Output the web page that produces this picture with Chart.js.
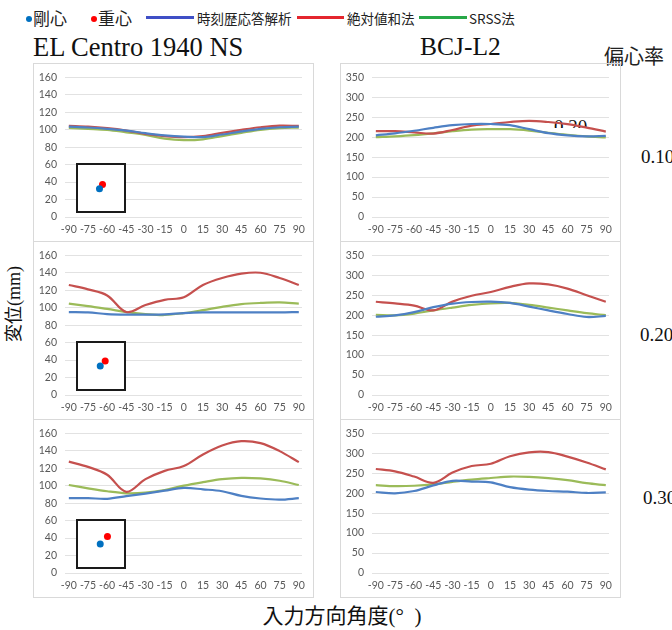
<!DOCTYPE html>
<html>
<head>
<meta charset="utf-8">
<script src="https://cdn.jsdelivr.net/npm/chart.js@4/dist/chart.umd.min.js"></script>
<style>
  html, body { margin: 0; padding: 0; background: #fff; }
  #wrap { position: relative; width: 672px; height: 630px; overflow: hidden; background: #fff; }
  .abs { position: absolute; white-space: nowrap; }
  .panel { position: absolute; box-sizing: border-box; border: 1px solid #D9D9D9; }
  .cjk { font-family: "Noto Sans CJK JP", sans-serif; color: #222; }
  .serif { font-family: "Liberation Serif", "Noto Sans CJK JP", serif; color: #111; }
  .dot { position: absolute; width: 6px; height: 6px; border-radius: 50%; }
  .lg-line { position: absolute; height: 3px; }
  .inset { position: absolute; box-sizing: border-box; width: 50px; height: 50px; border: 2px solid #1a1a1a; background: #fff; }
</style>
</head>
<body>
<div id="wrap">
  <!-- legend -->
  <div class="dot" style="left:26px;top:16px;background:#0070C0"></div>
  <div class="abs cjk" style="left:33px;top:7px;font-size:17px;line-height:22px;">剛心</div>
  <div class="dot" style="left:91px;top:16px;background:#FF0000"></div>
  <div class="abs cjk" style="left:98px;top:7px;font-size:17px;line-height:22px;">重心</div>
  <div class="lg-line" style="left:146px;top:16px;width:48px;background:#3F4FC6"></div>
  <div class="abs cjk" style="left:197px;top:9px;font-size:13.5px;line-height:18px;">時刻歴応答解析</div>
  <div class="lg-line" style="left:297px;top:16px;width:47px;background:#E4262E"></div>
  <div class="abs cjk" style="left:347px;top:9px;font-size:13.5px;line-height:18px;">絶対値和法</div>
  <div class="lg-line" style="left:419px;top:16px;width:48px;background:#28A848"></div>
  <div class="abs cjk" style="left:469px;top:9px;font-size:13.5px;line-height:18px;">SRSS法</div>

  <!-- column titles -->
  <div class="abs serif" style="left:33px;top:33px;font-size:26.5px;line-height:28px;">EL Centro 1940 NS</div>
  <div class="abs serif" style="left:420px;top:33px;font-size:25.5px;line-height:28px;">BCJ-L2</div>
  <div class="abs cjk" style="left:604px;top:43px;font-size:20px;line-height:26px;">偏心率</div>

  <!-- eccentricity labels -->
  <div class="abs serif" style="left:641px;top:145px;font-size:19px;line-height:24px;">0.10</div>
  <div class="abs serif" style="left:640px;top:323px;font-size:19px;line-height:24px;">0.20</div>
  <div class="abs serif" style="left:643px;top:486px;font-size:19px;line-height:24px;">0.30</div>

  <!-- partly hidden label inside the upper BCJ panel -->
  <div class="abs" style="left:554px;top:119px;width:40px;height:9px;overflow:hidden;">
    <div class="abs serif" style="left:0;top:-2px;font-size:19px;line-height:19px;">0.20</div>
  </div>

  <!-- axis titles -->
  <div class="abs serif" style="left:14px;top:304px;font-size:18px;line-height:22px;transform:translate(-50%,-50%) rotate(-90deg);">変位(mm)</div>
  <div class="abs serif" style="left:342px;top:616px;font-size:21px;line-height:26px;transform:translate(-50%,-50%);">入力方向角度(°&nbsp;&nbsp;)</div>
</div>

<script>
// Input direction angles (degrees) shared by every panel
const angles = [-90, -75, -60, -45, -30, -15, 0, 15, 30, 45, 60, 75, 90];

// Y-axis tick settings per record
const elcYMax = 160, elcYStep = 20;
const bcjYMax = 350, bcjYStep = 50;

// Eccentricity of each row
const eccentricities = ['0.10', '0.20', '0.30'];

// EL Centro 1940 NS — displacement (mm)
const elc10TimeHistory = [103.5, 102.5, 101, 99, 96, 93.5, 92, 91.5, 94.5, 98, 101, 102.8, 103.5];
const elc10AbsSum      = [104.5, 103.5, 101.7, 99, 95.3, 92.7, 91.5, 92.7, 96.4, 99.8, 102.8, 104.7, 104.3];
const elc10Srss        = [102, 101, 99.8, 97, 94, 89.7, 88, 89, 92.7, 96.4, 99.8, 101.7, 102.4];

const elc20TimeHistory = [95, 94.6, 92.7, 92, 92, 92.3, 93.8, 94.6, 94.6, 94.6, 94.6, 94.6, 95];
const elc20AbsSum      = [126, 121, 114, 95, 103, 109, 112, 126, 134, 139, 140, 134, 126];
const elc20Srss        = [104.7, 101.7, 98.7, 95, 92.7, 91.6, 93.8, 97.2, 101, 104, 105.4, 106, 104.7];

const elc30TimeHistory = [85.7, 85.7, 85, 88, 91, 94.3, 97.4, 95.8, 93.6, 88.3, 85.3, 84, 85.7];
const elc30AbsSum      = [127.5, 121.5, 112.5, 93, 107.5, 117, 122.6, 135.8, 146, 151, 148.7, 139.6, 127];
const elc30Srss        = [100.8, 97, 93.6, 91.3, 92, 95, 100, 104, 107.5, 109, 108.3, 105.7, 100.8];

// BCJ-L2 — displacement (mm)
const bcj10TimeHistory = [204.6, 209.5, 216, 223.5, 230, 233, 233, 230, 220, 210, 204.6, 202, 203];
const bcj10AbsSum      = [215, 215, 212, 209, 218, 229, 233, 238, 241, 238, 232.5, 224, 214];
const bcj10Srss        = [200, 202, 205, 209.5, 215, 219, 220, 220, 216.6, 211, 206, 202, 199.6];

const bcj20TimeHistory = [196, 199.5, 207.7, 220, 229, 233, 234, 230.6, 221.6, 212, 203, 195.4, 198];
const bcj20AbsSum      = [233.6, 229.5, 224, 212, 234, 248.6, 258, 271, 279.6, 277, 266.6, 250, 233.6];
const bcj20Srss        = [201, 199.5, 204, 212, 219, 225.6, 229.8, 230.6, 225.6, 219, 212, 205, 200];

const bcj30TimeHistory = [203, 199.7, 205.4, 219.4, 231, 229, 227, 215, 208.7, 205.4, 203.8, 200.5, 202];
const bcj30AbsSum      = [260.5, 254.7, 241.6, 226, 251.5, 268, 273.6, 292.5, 302.4, 303, 291.7, 277, 259.6];
const bcj30Srss        = [220, 217.7, 218.6, 222, 228.4, 234, 238, 241.6, 240.7, 237.5, 232.5, 225, 220];

// Plan positions (fraction of the floor square) of the centre of rigidity and centre of mass
const rigidityX = [0.46, 0.48, 0.48];
const rigidityY = [0.48, 0.50, 0.50];
const massX     = [0.54, 0.61, 0.67];
const massY     = [0.59, 0.63, 0.70];

const COLOR_TH   = '#4E80C4';
const COLOR_ABS  = '#C5504E';
const COLOR_SRSS = '#9BBB59';
const TICK_FONT  = { family: 'Lato', size: 10.5 };
const TICK_COLOR = '#595959';

const wrap = document.getElementById('wrap');
const colLeft = [33, 340];
const rowTop = [63, 241, 419];
const PANEL_W = 281, PANEL_H = 179;

function addCanvas(x, y, w, h) {
  const c = document.createElement('canvas');
  c.width = w; c.height = h;
  c.style.position = 'absolute';
  c.style.left = x + 'px';
  c.style.top = y + 'px';
  c.style.width = w + 'px';
  c.style.height = h + 'px';
  wrap.appendChild(c);
  return c;
}

function series(vals) {
  return angles.map((a, i) => ({ x: a, y: vals[i] }));
}

function lineChart(col, row, th, abs, srss, yMax, yStep) {
  const panel = document.createElement('div');
  panel.className = 'panel';
  panel.style.left = colLeft[col] + 'px';
  panel.style.top = rowTop[row] + 'px';
  panel.style.width = PANEL_W + 'px';
  panel.style.height = PANEL_H + 'px';
  wrap.appendChild(panel);

  const canvas = addCanvas(colLeft[col], rowTop[row], 280, 178);
  return new Chart(canvas.getContext('2d'), {
    type: 'line',
    data: {
      datasets: [
        { label: '時刻歴応答解析', data: series(th),   borderColor: COLOR_TH },
        { label: '絶対値和法',     data: series(abs),  borderColor: COLOR_ABS },
        { label: 'SRSS法',         data: series(srss), borderColor: COLOR_SRSS }
      ]
    },
    options: {
      responsive: false,
      animation: false,
      devicePixelRatio: 1,
      layout: { padding: { left: 0, right: 11, top: 11, bottom: 0 } },
      plugins: { legend: { display: false }, tooltip: { enabled: false } },
      elements: {
        point: { radius: 0 },
        line: { tension: 0.35, borderWidth: 2.2, fill: false }
      },
      scales: {
        x: {
          type: 'linear',
          min: -93,
          max: 92.5,
          afterBuildTicks: s => { s.ticks = angles.map(v => ({ value: v })); },
          afterFit: s => { s.height = 24; },
          grid: { display: false, drawTicks: false },
          border: { display: false },
          ticks: { padding: 6, font: TICK_FONT, color: TICK_COLOR, maxRotation: 0, autoSkip: false }
        },
        y: {
          min: 0,
          max: yMax,
          afterFit: s => { s.width = 32; },
          grid: { color: '#E2E2E2', lineWidth: 1, drawTicks: false },
          border: { display: false },
          ticks: { stepSize: yStep, padding: 8, font: TICK_FONT, color: TICK_COLOR }
        }
      }
    }
  });
}

function planInset(row) {
  const box = document.createElement('div');
  box.className = 'inset';
  box.style.left = (colLeft[0] + 43) + 'px';
  box.style.top = (rowTop[row] + 100) + 'px';
  wrap.appendChild(box);
  const c = document.createElement('canvas');
  c.width = 46; c.height = 46;
  c.style.display = 'block';
  box.appendChild(c);
  return new Chart(c.getContext('2d'), {
    type: 'scatter',
    data: {
      datasets: [
        { label: '剛心', data: [{ x: rigidityX[row], y: rigidityY[row] }], backgroundColor: '#0070C0' },
        { label: '重心', data: [{ x: massX[row], y: massY[row] }], backgroundColor: '#FF0000' }
      ]
    },
    options: {
      responsive: false,
      animation: false,
      devicePixelRatio: 1,
      layout: { padding: 0 },
      plugins: { legend: { display: false }, tooltip: { enabled: false } },
      elements: { point: { radius: 3.5, borderWidth: 0 } },
      scales: {
        x: { type: 'linear', min: 0, max: 1, display: false },
        y: { type: 'linear', min: 0, max: 1, display: false }
      }
    }
  });
}

// EL Centro column
lineChart(0, 0, elc10TimeHistory, elc10AbsSum, elc10Srss, elcYMax, elcYStep);
lineChart(0, 1, elc20TimeHistory, elc20AbsSum, elc20Srss, elcYMax, elcYStep);
lineChart(0, 2, elc30TimeHistory, elc30AbsSum, elc30Srss, elcYMax, elcYStep);
// BCJ-L2 column
lineChart(1, 0, bcj10TimeHistory, bcj10AbsSum, bcj10Srss, bcjYMax, bcjYStep);
lineChart(1, 1, bcj20TimeHistory, bcj20AbsSum, bcj20Srss, bcjYMax, bcjYStep);
lineChart(1, 2, bcj30TimeHistory, bcj30AbsSum, bcj30Srss, bcjYMax, bcjYStep);
// floor plans with eccentricity
eccentricities.forEach((e, row) => planInset(row));
</script>
</body>
</html>
